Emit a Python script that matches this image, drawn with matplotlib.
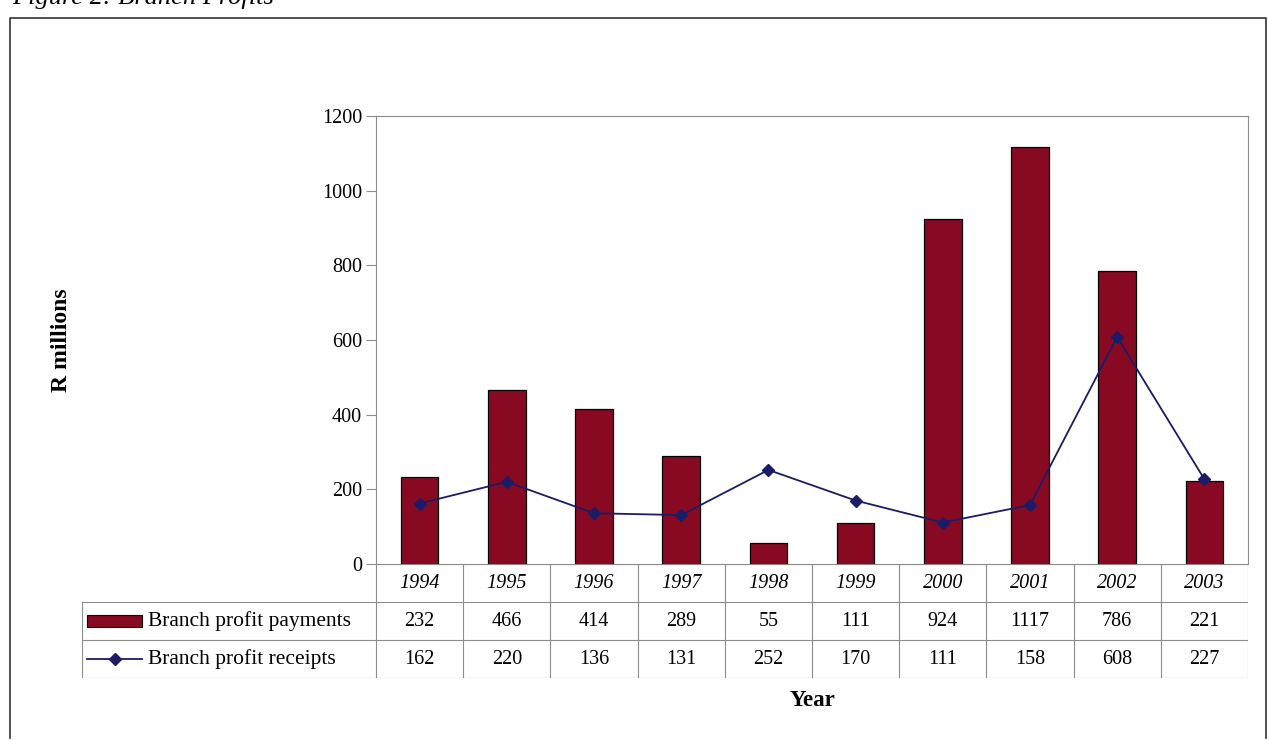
import matplotlib.pyplot as plt
from matplotlib.patches import Rectangle

plt.rcParams['font.family'] = ['Liberation Serif', 'DejaVu Serif']

years = ['1994', '1995', '1996', '1997', '1998', '1999', '2000', '2001', '2002', '2003']
payments = [232, 466, 414, 289, 55, 111, 924, 1117, 786, 221]
receipts = [162, 220, 136, 131, 252, 170, 111, 158, 608, 227]
series_names = ['Branch profit payments', 'Branch profit receipts']
y_ticks = [0, 200, 400, 600, 800, 1000, 1200]

BAR_COLOR = '#880a22'
LINE_COLOR = '#1b1b66'
GRID_GRAY = '#8c8c8c'

W, H = 1269, 740
fig = plt.figure(figsize=(W / 100, H / 100), dpi=100)


def fbox(x0, y0, x1, y1):
    # pixel box (top-left origin) -> figure fraction rect
    return [x0 / W, 1 - y1 / H, (x1 - x0) / W, (y1 - y0) / H]


# outer frame and caption running off the top edge
frame = fig.add_axes([0, 0, 1, 1])
frame.set_xlim(0, W)
frame.set_ylim(H, 0)
frame.axis('off')
frame.plot([10, 10, 1266, 1266], [738, 18, 18, 738], color='#333333', lw=1.2)
frame.text(12, 4, 'Figure 2: Branch Profits', fontsize=19, style='italic',
           ha='left', va='baseline')

# main chart
plot_left, plot_right, plot_top, plot_bottom = 376, 1248, 116, 564
ax = fig.add_axes(fbox(plot_left, plot_top, plot_right, plot_bottom))
x = list(range(len(years)))
ax.bar(x, payments, width=0.43, color=BAR_COLOR, edgecolor='black', linewidth=0.9, zorder=2)
ax.plot(x, receipts, color=LINE_COLOR, lw=1.3, marker='D', markersize=6, zorder=3)
ax.set_xlim(-0.5, len(years) - 0.5)
ax.set_ylim(0, 1200)
ax.set_yticks(y_ticks)
ax.set_xticks([])
ax.tick_params(axis='y', length=7, width=0.8, color=GRID_GRAY, labelsize=14.5, pad=3)
for s in ax.spines.values():
    s.set_color(GRID_GRAY)
    s.set_linewidth(0.8)
ax.set_ylabel('R millions', fontsize=17, fontweight='bold')
ax.yaxis.set_label_coords((72 - plot_left) / (plot_right - plot_left), 0.5)

# data table beneath the chart
cat_px = (plot_right - plot_left) / len(years)
tab_left, row_h = 82, 38
tab = fig.add_axes(fbox(tab_left, plot_bottom, plot_right, plot_bottom + 3 * row_h))
x_min = -0.5 - (plot_left - tab_left) / cat_px
tab.set_xlim(x_min, len(years) - 0.5)
tab.set_ylim(3, 0)
tab.axis('off')

lkw = dict(color=GRID_GRAY, lw=0.8)
for i in range(len(years) + 1):
    tab.plot([i - 0.5, i - 0.5], [0, 3], **lkw)
tab.plot([-0.5, len(years) - 0.5], [0, 0], **lkw)
for r in (1, 2, 3):
    tab.plot([x_min, len(years) - 0.5], [r, r], **lkw)
tab.plot([x_min, x_min], [1, 3], **lkw)

for i, yr in enumerate(years):
    tab.text(i, 0.52, yr, ha='center', va='center', fontsize=14.5, style='italic')
    tab.text(i, 1.5, str(payments[i]), ha='center', va='center', fontsize=14.5)
    tab.text(i, 2.5, str(receipts[i]), ha='center', va='center', fontsize=14.5)

# legend keys inside the table
px = 1 / cat_px
tab.add_patch(Rectangle((x_min + 5 * px, 1.5 - 0.16), 55 * px, 0.32,
                        facecolor=BAR_COLOR, edgecolor='black', lw=0.8))
tab.plot([x_min + 5 * px, x_min + 60 * px], [2.5, 2.5], color=LINE_COLOR, lw=1.3)
tab.plot([x_min + 32.5 * px], [2.5], color=LINE_COLOR, marker='D', markersize=6)
tab.text(x_min + 66 * px, 1.5, series_names[0], ha='left', va='center', fontsize=15.5)
tab.text(x_min + 66 * px, 2.5, series_names[1], ha='left', va='center', fontsize=15.5)

fig.text(812 / W, 1 - 701 / H, 'Year', ha='center', va='center', fontsize=16.5, fontweight='bold')

fig.savefig('out.png', dpi=100)
